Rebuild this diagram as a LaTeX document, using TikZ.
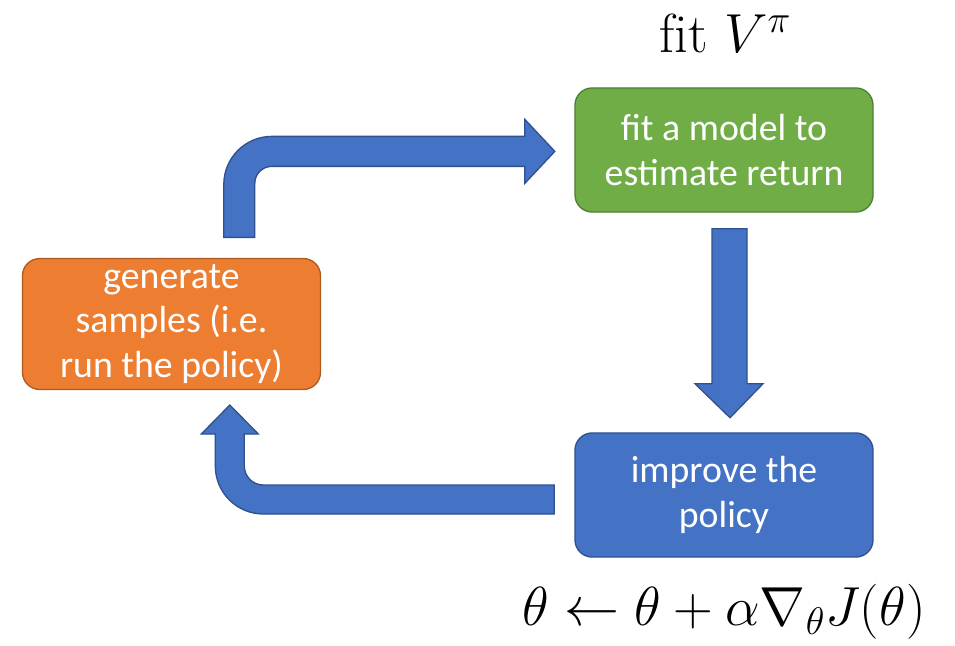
\RequirePackage{fix-cm}
\documentclass[tikz,border=0pt]{standalone}
\usepackage{amsmath,amssymb}
\usepackage{fontspec}
\newfontfamily\boxfont{Carlito}
\usepackage{tikz}
\usetikzlibrary{calc}
\definecolor{rlorange}{HTML}{ED7D31}
\definecolor{rlorangedk}{HTML}{AE5A21}
\definecolor{rlgreen}{HTML}{70AD47}
\definecolor{rlgreendk}{HTML}{507E32}
\definecolor{rlblue}{HTML}{4472C4}
\definecolor{rlbluedk}{HTML}{2F528F}

\begin{document}
\begin{tikzpicture}[
        x=0.0265cm, y=-0.0265cm,
        procbox/.style={rectangle, rounded corners=13pt, line width=1pt,
                        minimum width=7.9cm, minimum height=3.29cm,
                        align=center, text=white,
                        font=\boxfont\fontsize{28.5}{33.8}\selectfont},
        blockarrow/.style={fill=rlblue, draw=rlbluedk, line width=1pt},
        bigmath/.style={font=\fontsize{41.5}{48}\selectfont}
      ]
      \useasboundingbox (0,0) rectangle (955,645);

      \node[procbox, fill=rlorange, draw=rlorangedk, minimum height=3.47cm]
        (gen) at (171.5,324) {generate\\samples (i.e.\\run the policy)};
      \node[procbox, fill=rlgreen, draw=rlgreendk]
        (fit) at (724,150) {fit a model to\\estimate return};
      \node[procbox, fill=rlblue, draw=rlbluedk]
        (imp) at (724,495) {improve the\\policy};

      \node[bigmath] (vpi) at (725,33) {$\mathrm{fit}\ V^{\pi}$};
      \node[bigmath] (upd) at (724,612)
        {$\theta \leftarrow \theta + \alpha \nabla_{\theta} J(\theta)$};

      % block arrows
      \coordinate (a1) at ($(gen.north west)+(202,-20.5)$);
      \coordinate (a2) at ($(fit.south)+(-12,16)$);
      \coordinate (a3) at ($(imp.west)+(-20,19)$);

      \draw[blockarrow] (a1) -- ++(0,-53)
        arc[start angle=180, end angle=270, radius=48] -- ++(253,0)
        -- ++(0,-17) -- ++(30,32) -- ++(-30,32) -- ++(0,-17) -- ++(-253,0)
        arc[start angle=270, end angle=180, radius=17] -- ++(0,54) -- cycle;
      \draw[blockarrow] (a2) -- ++(35,0) -- ++(0,155) -- ++(16,0)
        -- ++(-33,34) -- ++(-35,-34) -- ++(17,0) -- cycle;
      \draw[blockarrow] (a3) -- ++(-291,0)
        arc[start angle=90, end angle=180, radius=48] -- ++(0,-32)
        -- ++(-14,0) -- ++(28.5,-29) -- ++(28.5,29) -- ++(-14,0) -- ++(0,32)
        arc[start angle=180, end angle=90, radius=19] -- ++(291,0) -- cycle;
    \end{tikzpicture}
\end{document}
